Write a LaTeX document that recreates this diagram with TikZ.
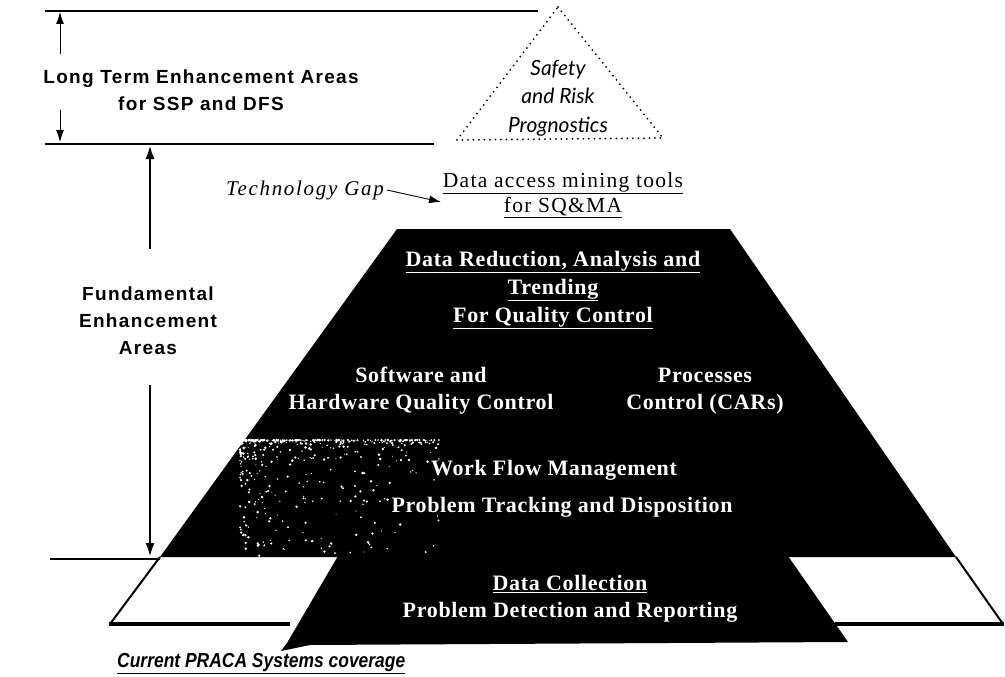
\documentclass[tikz,border=0pt]{standalone}
\usepackage{fontspec}
\setmainfont{Liberation Serif}
\newfontfamily\lblfont{Liberation Sans}[LetterSpace=7]
\newfontfamily\blkfont{Liberation Serif}[LetterSpace=3]
\newfontfamily\accfont{Liberation Serif}[LetterSpace=6]
\newfontfamily\gapfont{Liberation Serif}[LetterSpace=8]
\newfontfamily\humfont{Lato}
\newfontfamily\covfont{Liberation Sans}[FakeStretch=0.86]
\usetikzlibrary{arrows.meta}
\begin{document}
\begin{tikzpicture}[x=1pt,y=-1pt,
  rule/.style={line width=2pt},
  dimarrow/.style={line width=1.3pt,-{Latex[length=13pt,width=9pt]}},
  thinarrow/.style={line width=0.9pt,-{Latex[length=12pt,width=8pt]}},
  lbl/.style={font=\lblfont\bfseries\fontsize{19}{27}\selectfont, align=center, inner sep=0pt},
  blk/.style={font=\blkfont\bfseries\fontsize{22}{28}\selectfont, text=white, align=center, inner sep=0pt},
  blk2/.style={blk, font=\blkfont\bfseries\fontsize{22}{27}\selectfont},
  wblk/.style={font=\accfont\fontsize{21.5}{25}\selectfont, text=black, align=center, inner sep=0pt},
  hum/.style={font=\humfont\itshape\fontsize{21}{28.5}\selectfont, align=center, inner sep=0pt},
  outline/.style={line width=2pt, line join=miter}
]
\useasboundingbox (0,0) rectangle (1005,677);

% upper black trapezoid
\fill[black] (397,229) -- (730,229) -- (956,557) -- (160,557) -- cycle;
% speckled area
\begin{scope}
  \clip (397,229) -- (730,229) -- (956,557) -- (160,557) -- cycle;
  \pgfmathsetseed{12}
  \foreach \i in {1,...,480}{
    \pgfmathsetmacro\rx{240+200*pow(rnd,1.8)}
    \pgfmathsetmacro\ry{440+120*pow(rnd,4)}
    \pgfmathsetmacro\rr{0.5+0.9*rnd}
    \fill[white] (\rx,\ry) circle[radius=\rr];
  }
\end{scope}
% lower black trapezoid
\fill[black] (338,556) -- (788,556) -- (848,642) -- (310,645) -- (281,651) -- (287,643) -- cycle;
% outer outline
\draw[outline] (160,557) -- (110,624);
\draw[outline] (956,557) -- (1003,624);
\draw[line width=3.5pt] (109,624) -- (290,624);
\draw[line width=4pt] (835,624) -- (1004,624);

% dotted top triangle
\draw[line width=2pt, line cap=round, dash pattern=on 0pt off 5.5pt]
  (558,7) -- (663,138) -- (457,140) -- cycle;

% horizontal rules
\draw[rule] (45,11) -- (538,11);
\draw[rule] (45,144) -- (434,144);
\draw[rule] (50,559) -- (160,559);

% labels
\node[lbl] (lt) at (201,90) {Long Term Enhancement Areas\\for SSP and DFS};
\node[lbl] (fund) at (148,321) {Fundamental\\Enhancement\\Areas};
\node[hum] (safety) at (558,98) {Safety\\and Risk\\Prognostics};
\node[wblk] (access) at (563,195) {\underline{Data access mining tools}\\\underline{for SQ\&MA}};
\node[font=\gapfont\itshape\fontsize{21}{24}\selectfont, inner sep=0pt] (gap) at (305,190) {Technology Gap};
\node[blk] (reduct) at (553,290) {\underline{Data Reduction, Analysis and}\\\underline{Trending}\\\underline{For Quality Control}};
\node[blk2] (soft) at (421,391) {Software and\\Hardware Quality Control};
\node[blk2] (proc) at (705,391) {Processes\\Control (CARs)};
\node[blk] (work) at (554,470) {Work Flow Management};
\node[blk] (track) at (562,507) {Problem Tracking and Disposition};
\node[blk2] (collect) at (570,599) {\underline{Data Collection}\\Problem Detection and Reporting};
\node[font=\covfont\bfseries\itshape\fontsize{20.3}{22}\selectfont, anchor=west, inner sep=0pt] (cov) at (117,664) {\underline{Current PRACA Systems coverage}};

% dimension arrows
\coordinate (ltTopTip) at (60,12);
\coordinate (ltTopStart) at (60,54);
\coordinate (ltBotStart) at (60,110);
\coordinate (ltBotTip) at (60,142);
\coordinate (fuTopTip) at (150,146);
\coordinate (fuTopStart) at (150,249);
\coordinate (fuBotStart) at (150,385);
\coordinate (fuBotTip) at (150,556);
\coordinate (gapTip) at (441,202);
\draw[thinarrow] (ltTopStart) -- (ltTopTip);
\draw[thinarrow] (ltBotStart) -- (ltBotTip);
\draw[dimarrow] (fuTopStart) -- (fuTopTip);
\draw[dimarrow] (fuBotStart) -- (fuBotTip);
\draw[thinarrow] ([xshift=3pt]gap.east) -- (gapTip);
\end{tikzpicture}
\end{document}
